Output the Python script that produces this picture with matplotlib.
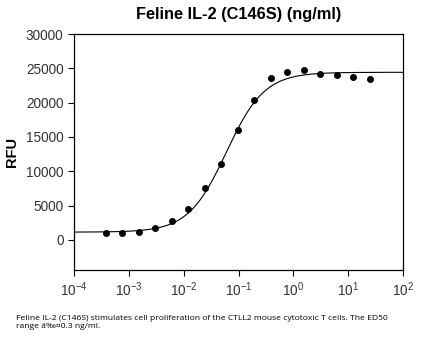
import matplotlib
matplotlib.use("Agg")
import matplotlib.pyplot as plt
import numpy as np

plt.rcParams["font.family"] = ["Liberation Sans", "DejaVu Sans"]
plt.rcParams["mathtext.fontset"] = "custom"
plt.rcParams["mathtext.rm"] = "Liberation Sans"
plt.rcParams["mathtext.it"] = "Liberation Sans"

# two-fold dilution series, ng/ml
conc = [0.00038, 0.00076, 0.00153, 0.00305, 0.0061, 0.0122, 0.0244, 0.0488,
        0.0977, 0.195, 0.39, 0.78, 1.56, 3.125, 6.25, 12.5, 25.0]
rfu = [970, 1020, 1210, 1750, 2720, 4470, 7520, 11120,
       15970, 20440, 23590, 24510, 24810, 24220, 24080, 23790, 23450]

# 4-parameter logistic fit
fit_bottom = 1120
fit_top = 24420
fit_ec50 = 0.060
fit_hill = 1.25

xticks = [1e-4, 1e-3, 1e-2, 1e-1, 1e0, 1e1, 1e2]
xticklabels = [r"$\mathregular{10^{-4}}$", r"$\mathregular{10^{-3}}$",
               r"$\mathregular{10^{-2}}$", r"$\mathregular{10^{-1}}$",
               r"$\mathregular{10^{0}}$", r"$\mathregular{10^{1}}$",
               r"$\mathregular{10^{2}}$"]
yticks = [0, 5000, 10000, 15000, 20000, 25000, 30000]

caption = ("Feline IL-2 (C146S) stimulates cell proliferation of the CTLL2 mouse "
           "cytotoxic T cells. The ED50\nrange \u00e2\u2030\u00a40.3 ng/ml.")

fig = plt.figure(figsize=(4.24, 3.45), dpi=100)
ax = fig.add_axes([0.1745, 0.2174, 0.776, 0.684])

xs = np.logspace(-4, 2, 400)
ys = fit_bottom + (fit_top - fit_bottom) / (1 + (fit_ec50 / xs) ** fit_hill)
ax.plot(xs, ys, color="black", lw=0.8)
ax.plot(conc, rfu, "o", color="black", ms=4)

ax.set_xscale("log")
ax.set_xlim(1e-4, 1e2)
ax.set_ylim(-4400, 30000)
ax.set_xticks(xticks)
ax.set_xticklabels(xticklabels)
ax.xaxis.set_minor_locator(matplotlib.ticker.NullLocator())
ax.set_yticks(yticks)
ax.set_yticklabels([str(v) for v in yticks])
ax.tick_params(direction="out", length=4, width=0.8, labelsize=9.8,
               labelcolor="#333333", top=False, right=False)
for s in ax.spines.values():
    s.set_linewidth(0.9)

ax.set_ylabel("RFU", fontsize=10.5, fontweight="bold", labelpad=5)
ax.set_title("Feline IL-2 (C146S) (ng/ml)", fontsize=11.8, fontweight="bold", pad=11)

fig.text(0.038, 0.05, caption, fontsize=6.1, family=["Open Sans", "DejaVu Sans"],
         linespacing=1.05)

fig.savefig("out.png", dpi=100)
